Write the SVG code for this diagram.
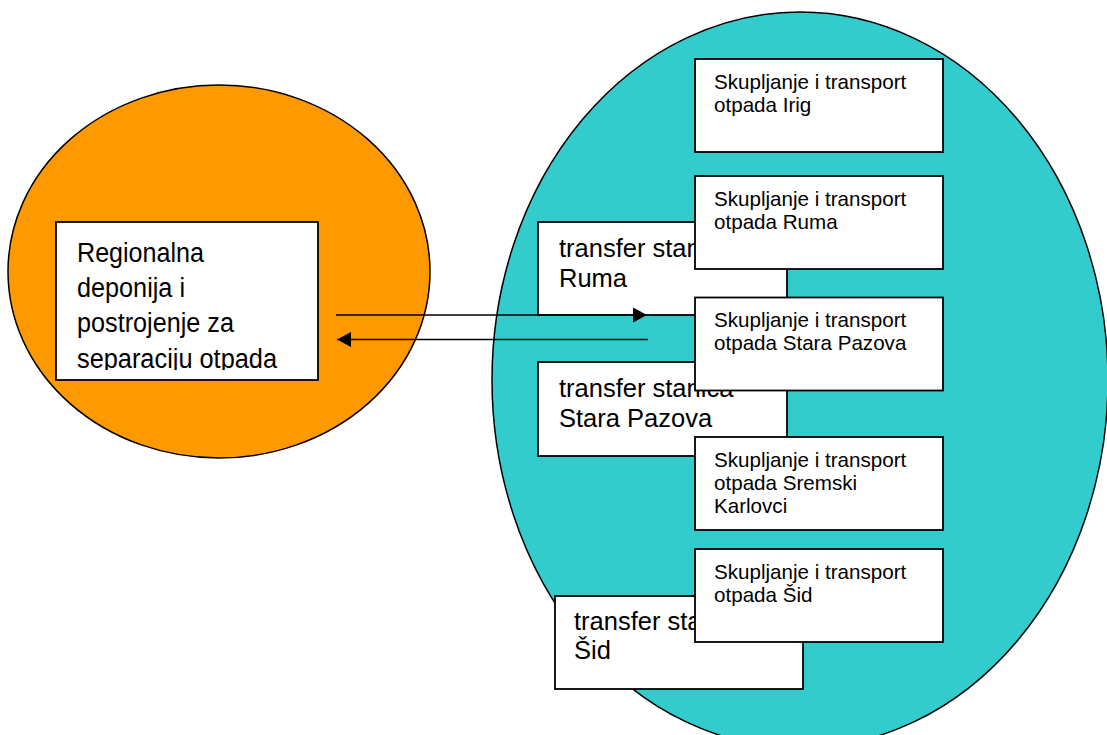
<svg xmlns="http://www.w3.org/2000/svg" width="1107" height="735" viewBox="0 0 1107 735">
  <style>
    .box { fill: #ffffff; stroke: #000000; stroke-width: 1.8; }
    .ell { stroke: #000000; stroke-width: 1.5; }
    .t { font-family: "Liberation Sans", Arial, sans-serif; fill: #000000; }
    .big { font-size: 27px; }
    .mid { font-size: 25.5px; }
    .small { font-size: 20.6px; }
    .conn { stroke: #000000; stroke-width: 1.6; fill: none; }
  </style>
  <defs>
    <marker id="arrow" markerUnits="userSpaceOnUse" markerWidth="16" markerHeight="16" viewBox="0 0 16 16" refX="15" refY="8" orient="auto">
      <path d="M1,0.5 L15,8 L1,15.5 Z" fill="#000000"/>
    </marker>
    <clipPath id="regClip">
      <rect x="56" y="222" width="262" height="148"/>
    </clipPath>
  </defs>
  <rect width="1107" height="735" fill="#ffffff"/>

  <g id="regija">
    <ellipse class="ell" cx="219" cy="271.5" rx="211" ry="186.5" fill="#FF9900"/>
  </g>
  <g id="regionalna-deponija">
    <rect class="box" x="56" y="222" width="262" height="158"/>
    <g clip-path="url(#regClip)">
      <text class="t big" x="77" y="262" textLength="127" lengthAdjust="spacingAndGlyphs">Regionalna</text>
      <text class="t big" x="77" y="297" textLength="108" lengthAdjust="spacingAndGlyphs">deponija i</text>
      <text class="t big" x="77" y="332" textLength="157" lengthAdjust="spacingAndGlyphs">postrojenje za</text>
      <text class="t big" x="77" y="368" textLength="200" lengthAdjust="spacingAndGlyphs">separaciju otpada</text>
    </g>
  </g>

  <g id="opstine">
    <ellipse class="ell" cx="800" cy="380" rx="308" ry="368" fill="#33CCCC"/>
  </g>

  <g id="transfer-ruma">
    <rect class="box" x="538" y="222" width="249" height="93"/>
    <text class="t mid" x="559" y="257">transfer stanica</text>
    <text class="t mid" x="559" y="287">Ruma</text>
  </g>
  <g id="transfer-stara-pazova">
    <rect class="box" x="538" y="362" width="249" height="94"/>
    <text class="t mid" x="559" y="397">transfer stanica</text>
    <text class="t mid" x="559" y="427">Stara Pazova</text>
  </g>
  <g id="transfer-sid">
    <rect class="box" x="555" y="596" width="248" height="93"/>
    <text class="t mid" x="574" y="630">transfer stanica</text>
    <text class="t mid" x="574" y="659">Šid</text>
  </g>

  <g id="skupljanje-irig">
    <rect class="box" x="695" y="59" width="248" height="93"/>
    <text class="t small" x="714" y="89">Skupljanje i transport</text>
    <text class="t small" x="714" y="112">otpada Irig</text>
  </g>
  <g id="skupljanje-ruma">
    <rect class="box" x="695" y="176" width="248" height="93"/>
    <text class="t small" x="714" y="206">Skupljanje i transport</text>
    <text class="t small" x="714" y="229">otpada Ruma</text>
  </g>
  <g id="skupljanje-stara-pazova">
    <rect class="box" x="695" y="297.5" width="248" height="93"/>
    <text class="t small" x="714" y="327">Skupljanje i transport</text>
    <text class="t small" x="714" y="350">otpada Stara Pazova</text>
  </g>
  <g id="skupljanje-sremski-karlovci">
    <rect class="box" x="695" y="437" width="248" height="93"/>
    <text class="t small" x="714" y="467">Skupljanje i transport</text>
    <text class="t small" x="714" y="490">otpada Sremski</text>
    <text class="t small" x="714" y="513">Karlovci</text>
  </g>
  <g id="skupljanje-sid">
    <rect class="box" x="695" y="549" width="248" height="93"/>
    <text class="t small" x="714" y="579">Skupljanje i transport</text>
    <text class="t small" x="714" y="602">otpada Šid</text>
  </g>

  <g id="connectors">
    <line class="conn" x1="336" y1="315" x2="647" y2="315" marker-end="url(#arrow)"/>
    <line class="conn" x1="648" y1="339.5" x2="337" y2="339.5" marker-end="url(#arrow)"/>
  </g>
</svg>
